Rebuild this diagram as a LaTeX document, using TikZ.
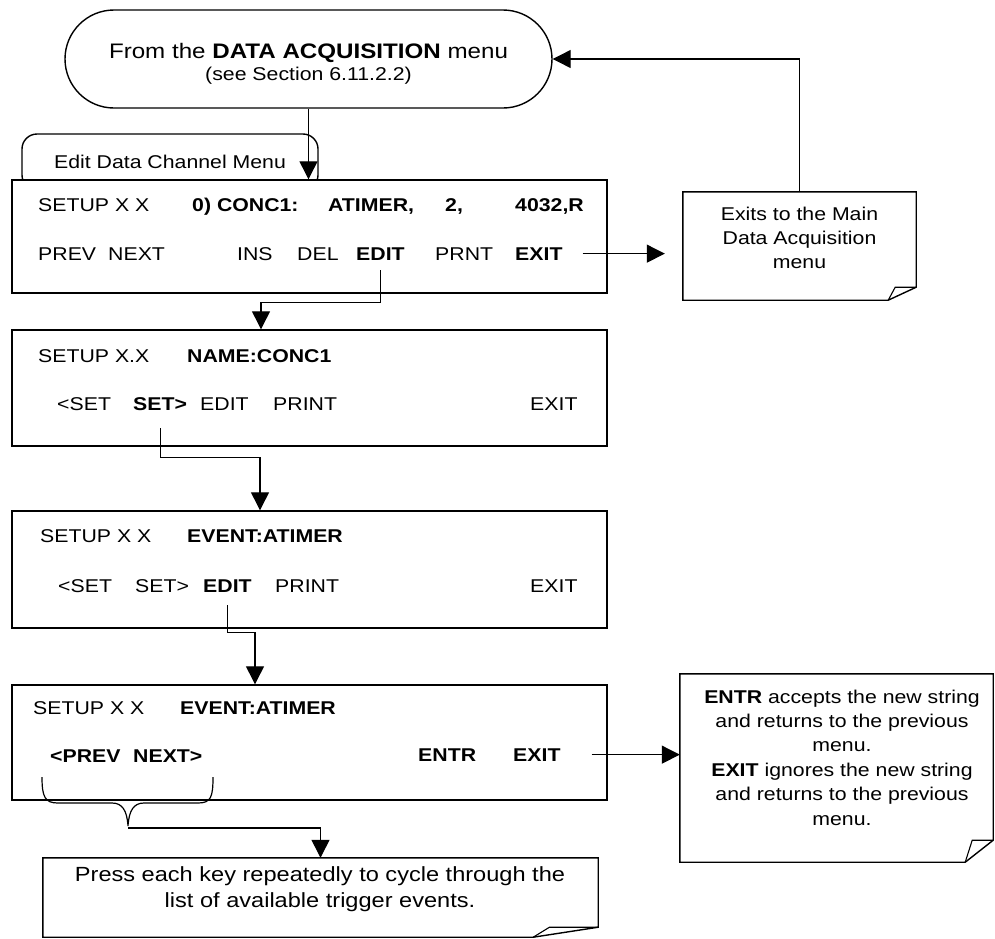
\documentclass[tikz,border=0pt]{standalone}
\usepackage{fontspec}
\setmainfont{Liberation Sans}[FakeStretch=1.15]
\usetikzlibrary{arrows.meta,calc}

\tikzset{
  menubox/.style={draw, line width=1.4pt, fill=white, minimum width=595pt, inner sep=0pt},
  key/.style={anchor=base west, inner xsep=0pt, inner ysep=2pt, font=\fontsize{18.5}{22}\selectfont},
  bkey/.style={key, font=\fontsize{18.5}{22}\selectfont\bfseries},
  note/.style={inner sep=0pt},
  notetext/.style={anchor=north, inner sep=0pt, align=center, font=\fontsize{18.5}{24.4}\selectfont},
  conn/.style={line width=1.2pt},
  arr/.style={conn, -{Triangle[length=18pt,width=18pt]}},
}

% outline of a note with a folded lower right corner: node, dx, dy
\newcommand{\foldnote}[3]{%
  \draw[line width=1.4pt] (#1.north west) -- (#1.north east) -- ([yshift=#3pt]#1.south east)
    -- ([xshift=-#2pt]#1.south east) -- (#1.south west) -- cycle;
  \draw[line width=1.1pt] ([xshift=-#2pt]#1.south east) -- ([xshift=-0.75*#2pt,yshift=#3pt]#1.south east)
    -- ([yshift=#3pt]#1.south east);
}

\begin{document}
\begin{tikzpicture}[x=1pt,y=-1pt]
  \useasboundingbox (0,0) rectangle (995,938);

  % start of the menu
  \node[draw, line width=1.4pt, rounded corners=49pt, minimum width=487pt, minimum height=98pt,
        align=center, font=\fontsize{18.5}{22}\selectfont] (src) at (308.5,59)
    {\rule{0pt}{25.5pt}{\fontsize{21}{22}\selectfont From the \textbf{DATA ACQUISITION} menu}\\(see Section 6.11.2.2)};

  % tab and the four screens
  \node[draw, line width=1.4pt, rounded corners=15pt, minimum width=296pt, minimum height=56pt,
        font=\fontsize{18.5}{22}\selectfont] (tab) at (170,162) {Edit Data Channel Menu};
  \node[menubox, minimum height=113pt] (box1) at (309.5,236.5) {};
  \node[menubox, minimum height=116pt] (box2) at (309.5,388) {};
  \node[menubox, minimum height=117pt] (box3) at (309.5,569.5) {};
  \node[menubox, minimum height=115pt] (box4) at (309.5,742.5) {};

  % screen 1
  \node[key]  (b1setup) at (38,211)  {SETUP X X};
  \node[bkey] (b1chan)  at (192,211) {0) CONC1:};
  \node[bkey] (b1event) at (328,211) {ATIMER,};
  \node[bkey] (b1trig)  at (445,211) {2,};
  \node[bkey] (b1addr)  at (515,211) {4032,R};
  \node[key]  (b1prev)  at (38,260)  {PREV};
  \node[key]  (b1next)  at (108,260) {NEXT};
  \node[key]  (b1ins)   at (237,260) {INS};
  \node[key]  (b1del)   at (297,260) {DEL};
  \node[bkey] (b1edit)  at (356,260) {EDIT};
  \node[key]  (b1prnt)  at (435,260) {PRNT};
  \node[bkey] (b1exit)  at (515,260) {EXIT};

  % screen 2
  \node[key]  (b2setup) at (38,362)  {SETUP X.X};
  \node[bkey] (b2name)  at (187,362) {NAME:CONC1};
  \node[key]  (b2prev)  at (57,410)  {<SET};
  \node[bkey] (b2set)   at (133,410) {SET>};
  \node[key]  (b2edit)  at (200,410) {EDIT};
  \node[key]  (b2print) at (273,410) {PRINT};
  \node[key]  (b2exit)  at (530,410) {EXIT};

  % screen 3
  \node[key]  (b3setup) at (40,542)  {SETUP X X};
  \node[bkey] (b3event) at (187,542) {EVENT:ATIMER};
  \node[key]  (b3prev)  at (58,592)  {<SET};
  \node[key]  (b3set)   at (135,592) {SET>};
  \node[bkey] (b3edit)  at (203,592) {EDIT};
  \node[key]  (b3print) at (275,592) {PRINT};
  \node[key]  (b3exit)  at (530,592) {EXIT};

  % screen 4
  \node[key]  (b4setup) at (33,714)  {SETUP X X};
  \node[bkey] (b4event) at (180,714) {EVENT:ATIMER};
  \node[bkey] (b4prev)  at (50,762)  {<PREV};
  \node[bkey] (b4next)  at (133,762) {NEXT>};
  \node[bkey] (b4entr)  at (418,761) {ENTR};
  \node[bkey] (b4exit)  at (513,761) {EXIT};

  % notes
  \node[note, minimum width=233pt, minimum height=108pt] (exits) at (799.5,246) {};
  \foldnote{exits}{28}{13}
  \node[notetext] (exitstxt) at (799.5,206.5) {Exits to the Main\\Data Acquisition\\menu};

  \node[note, minimum width=313pt, minimum height=188pt] (entr) at (836.5,768) {};
  \foldnote{entr}{28}{22}
  \node[notetext] (entrtxt) at (842,689.5)
    {\textbf{ENTR} accepts the new string\\and returns to the previous\\menu.\\
     \textbf{EXIT} ignores the new string\\and returns to the previous\\menu.};

  \node[note, minimum width=555pt, minimum height=79pt] (press) at (320.5,897.5) {};
  \foldnote{press}{65}{10}
  \node[notetext, font=\fontsize{20.5}{26}\selectfont] (presstxt) at (320,866)
    {Press each key repeatedly to cycle through the\\list of available trigger events.};

  % brace under <PREV NEXT>
  \draw[conn] (42,777) .. controls (42,797) and (45,803) .. (58,803) -- (112,803)
    .. controls (122,803) and (127,810) .. (128,826)
    .. controls (129,810) and (134,803) .. (144,803) -- (198,803)
    .. controls (211,803) and (213,797) .. (213,777);
  \coordinate (bracetip) at (128,828);

  % connectors
  \draw[arr] (src.south) -- (src.south |- box1.north);
  \draw[arr] (exits.north) |- (src.east);
  \draw[arr, shorten <=20pt, shorten >=18pt] (b1exit.east) -- (b1exit.east -| exits.west);
  \draw[arr, shorten <=8pt] (b1edit.south) -- ++(0,40) -| ([xshift=-48.5pt]box2.north);
  \draw[arr, shorten <=16pt] (b2set.south) -- ++(0,45) -| ([xshift=-49.5pt]box3.north);
  \draw[arr, shorten <=11pt] (b3edit.south) -- ++(0,38) -| ([xshift=-54.5pt]box4.north);
  \draw[arr, shorten <=31pt] (b4exit.east) -- (b4exit.east -| entr.west);
  \draw[arr] (bracetip) -| (press.north);
\end{tikzpicture}
\end{document}
